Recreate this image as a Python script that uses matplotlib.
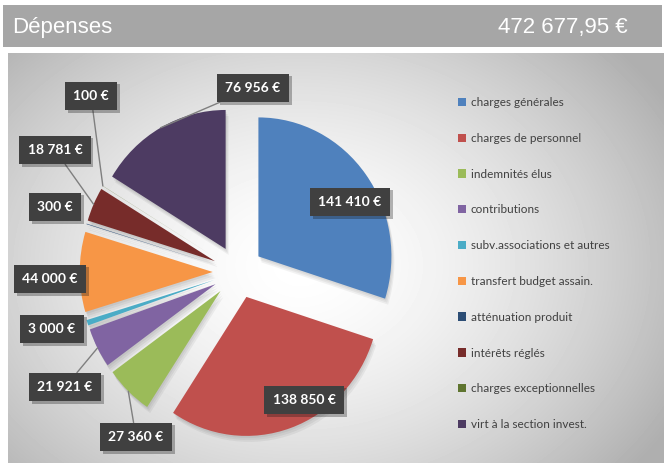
import numpy as np
import matplotlib.pyplot as plt
import matplotlib.patheffects as pe
from matplotlib.patches import Rectangle, Wedge

# données
categories = ["charges générales", "charges de personnel", "indemnités élus",
              "contributions", "subv.associations et autres",
              "transfert budget assain.", "atténuation produit",
              "intérêts réglés", "charges exceptionnelles",
              "virt à la section invest."]
values = [141410, 138850, 27360, 21921, 3000, 44000, 300, 18781, 100, 76956]
colors = ["#4F81BD", "#C0504D", "#9BBB59", "#8064A2", "#4BACC6",
          "#F79646", "#2C4D75", "#772C2A", "#5F7530", "#4D3B62"]
title = "Dépenses"
total_text = "472 677,95 €"

# mise en page (pixels, origine en haut à gauche)
W, H = 664, 463
PIE_CX, PIE_CY = 238, 272        # centre du camembert
RX, RY = 133, 139                # le camembert est un peu étiré en hauteur
EXPLODE = 0.19
label_pos = [(350, 202), (304, 400), (136, 437), (65, 387), (52, 329),
             (50, 279), (55, 207), (55, 150), (91, 96), (253, 88)]
leader = [False, False, True, True, False, False, False, True, True, True]

fig = plt.figure(figsize=(W / 100, H / 100), dpi=100)

# fond
bg = fig.add_axes([0, 0, 1, 1])
bg.add_patch(Rectangle((3, 5), 659, 42, color="#a6a6a6", lw=0, zorder=0))
bg.text(12, 27, title, color="white", fontsize=16, va="center",
        family="Liberation Sans")
bg.text(628, 27, total_text, color="white", fontsize=16, va="center",
        ha="right", family="Liberation Sans")
yy, xx = np.mgrid[53:H, 8:W]
r = np.hypot((xx - 300) / 340.0, (yy - 265) / 260.0)
shade = 1 - 0.22 * np.clip(r, 0, 1.25) ** 1.6
bg.imshow(shade, cmap="gray", vmin=0, vmax=1, extent=(8, W, H, 53),
          origin="upper", zorder=0, aspect="auto", interpolation="bilinear")
bg.set_xlim(0, W)
bg.set_ylim(H, 0)
bg.axis("off")

# camembert dans son propre axe (unités : rayon = 1)
L = 1.5
pie_ax = fig.add_axes([(PIE_CX - L * RX) / W, (H - PIE_CY - L * RY) / H,
                       2 * L * RX / W, 2 * L * RY / H])
pie_ax.patch.set_alpha(0)
wedges, _ = pie_ax.pie(values, colors=colors, startangle=90, counterclock=False,
                       explode=[EXPLODE] * len(values), radius=1,
                       wedgeprops=dict(linewidth=0, zorder=2), frame=True)
for w in wedges:
    cx, cy = w.center
    for off in (2, 4, 6):
        pie_ax.add_patch(Wedge((cx + off * 0.5 / RX, cy - off / RY), w.r,
                               w.theta1, w.theta2, color="black", alpha=0.05,
                               lw=0, zorder=1))
pie_ax.set_xlim(-L, L)
pie_ax.set_ylim(-L, L)
pie_ax.set_aspect("auto")
pie_ax.axis("off")

# étiquettes et légende au-dessus
top = fig.add_axes([0, 0, 1, 1])
top.patch.set_alpha(0)
top.set_xlim(0, W)
top.set_ylim(H, 0)
top.axis("off")

for i, w in enumerate(wedges):
    lbl = f"{values[i]:,}".replace(",", " ") + " €"
    box = dict(boxstyle="square,pad=0.6", fc="#404040", ec="none")
    if leader[i]:
        tm = np.deg2rad((w.theta1 + w.theta2) / 2)
        p = (w.center[0] + np.cos(tm), w.center[1] + np.sin(tm))
        pt = (PIE_CX + p[0] * RX, PIE_CY - p[1] * RY)
        t = top.annotate(lbl, xy=pt, xytext=label_pos[i], ha="center", va="center",
                         color="white", fontsize=10, fontweight="bold", family="Lato",
                         bbox=box, zorder=5,
                         arrowprops=dict(arrowstyle="-", color="#7f7f7f", lw=1,
                                         shrinkA=0, shrinkB=0))
    else:
        t = top.text(*label_pos[i], lbl, ha="center", va="center", color="white",
                     fontsize=10, fontweight="bold", family="Lato", bbox=box, zorder=5)
    t.get_bbox_patch().set_path_effects(
        [pe.SimplePatchShadow(offset=(2, -2), alpha=0.3), pe.Normal()])

top.legend(wedges, categories, loc="upper left",
           bbox_to_anchor=(458 / W, 1 - 97 / H), bbox_transform=fig.transFigure,
           frameon=False, labelspacing=2.1, handlelength=0.7,
           handleheight=0.7, handletextpad=0.4, borderpad=0, borderaxespad=0,
           prop=dict(family="Lato", size=8.5), labelcolor="#404040")

fig.savefig("out.png", dpi=100)
